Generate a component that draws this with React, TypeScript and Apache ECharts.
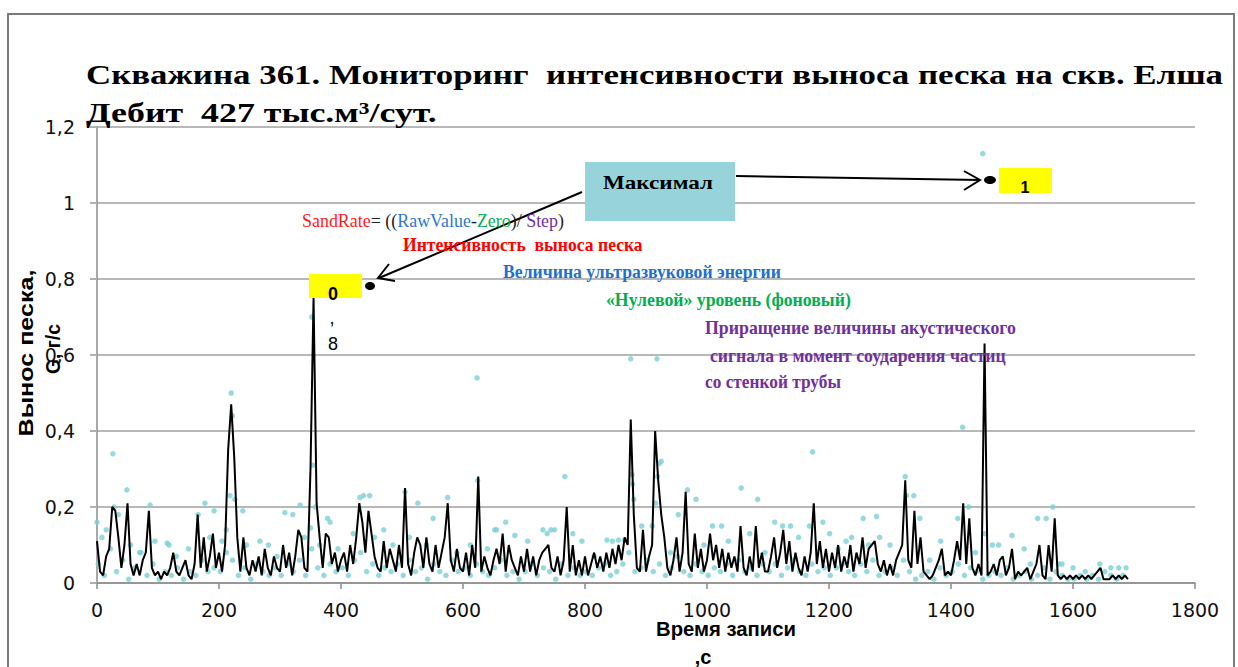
import React, { useEffect, useRef } from "react";
import * as echarts from "echarts";

// ---- data ----
const lineStep = 5; // seconds between smoothed samples
const lineValues = [
  0.11,0.03,0.02,0.07,0.09,0.20,0.19,0.12,0.04,0.10,0.21,0.05,0.02,0.05,0.02,0.06,0.08,0.19,0.04,0.02,
  0.03,0.01,0.03,0.02,0.04,0.08,0.03,0.02,0.04,0.06,0.02,0.01,0.05,0.18,0.04,0.12,0.03,0.07,0.13,0.04,
  0.08,0.03,0.10,0.35,0.47,0.33,0.12,0.03,0.12,0.04,0.02,0.06,0.03,0.07,0.02,0.09,0.04,0.02,0.07,0.04,
  0.03,0.10,0.04,0.08,0.02,0.07,0.14,0.12,0.04,0.03,0.30,0.75,0.21,0.12,0.04,0.13,0.12,0.05,0.08,0.03,
  0.06,0.08,0.03,0.10,0.05,0.12,0.21,0.16,0.08,0.19,0.13,0.07,0.04,0.03,0.11,0.04,0.09,0.06,0.03,0.10,
  0.04,0.25,0.05,0.02,0.08,0.12,0.10,0.04,0.12,0.05,0.03,0.10,0.04,0.08,0.12,0.21,0.06,0.03,0.09,0.04,
  0.03,0.08,0.02,0.10,0.04,0.28,0.03,0.07,0.04,0.02,0.06,0.09,0.05,0.13,0.03,0.10,0.06,0.04,0.02,0.07,
  0.03,0.09,0.03,0.07,0.02,0.06,0.08,0.09,0.10,0.04,0.03,0.07,0.02,0.06,0.20,0.03,0.10,0.02,0.06,0.02,
  0.07,0.02,0.05,0.08,0.04,0.07,0.03,0.08,0.04,0.09,0.05,0.10,0.06,0.12,0.10,0.43,0.18,0.04,0.03,0.14,
  0.03,0.07,0.10,0.40,0.27,0.18,0.12,0.04,0.02,0.06,0.12,0.03,0.08,0.24,0.05,0.03,0.13,0.04,0.09,0.03,
  0.06,0.13,0.06,0.10,0.04,0.09,0.03,0.08,0.04,0.07,0.03,0.15,0.04,0.02,0.07,0.03,0.15,0.04,0.08,0.03,
  0.03,0.07,0.12,0.04,0.08,0.14,0.05,0.11,0.03,0.08,0.04,0.02,0.07,0.03,0.08,0.21,0.05,0.11,0.04,0.09,
  0.03,0.08,0.04,0.10,0.03,0.07,0.04,0.10,0.03,0.08,0.05,0.12,0.04,0.09,0.10,0.11,0.05,0.03,0.06,0.02,
  0.05,0.02,0.06,0.08,0.10,0.27,0.06,0.04,0.19,0.05,0.12,0.03,0.02,0.01,0.02,0.04,0.06,0.09,0.02,0.03,
  0.02,0.06,0.11,0.06,0.21,0.05,0.17,0.04,0.02,0.05,0.02,0.63,0.02,0.03,0.05,0.02,0.06,0.07,0.02,0.04,
  0.09,0.01,0.03,0.02,0.03,0.04,0.01,0.03,0.05,0.10,0.02,0.01,0.10,0.03,0.17,0.02,0.01,0.02,0.01,0.02,
  0.01,0.02,0.01,0.02,0.01,0.02,0.01,0.02,0.03,0.04,0.01,0.01,0.01,0.02,0.01,0.02,0.01,0.02,0.01,
];

const rawBaseStart = 2;
const rawBaseStep = 10;
const rawBase = [
  0.05,0.02,0.09,0.03,0.06,0.01,0.04,0.08,0.02,0.05,
  0.01,0.03,0.02,0.04,0.01,0.03,0.02,0.06,0.03,0.04,
  0.03,0.08,0.06,0.02,0.04,0.01,0.05,0.03,0.02,0.04,
  0.02,0.05,0.03,0.06,0.02,0.09,0.04,0.02,0.05,0.03,
  0.04,0.02,0.06,0.08,0.03,0.05,0.02,0.04,0.03,0.05,
  0.02,0.06,0.03,0.04,0.01,0.05,0.03,0.02,0.06,0.03,
  0.04,0.02,0.05,0.03,0.02,0.04,0.06,0.02,0.03,0.01,
  0.03,0.05,0.02,0.04,0.03,0.01,0.05,0.02,0.04,0.02,
  0.03,0.02,0.04,0.05,0.02,0.03,0.05,0.08,0.03,0.04,
  0.06,0.03,0.05,0.02,0.04,0.07,0.03,0.02,0.05,0.03,
  0.02,0.04,0.03,0.05,0.02,0.06,0.03,0.04,0.02,0.05,
  0.03,0.05,0.02,0.04,0.06,0.03,0.02,0.05,0.03,0.04,
  0.02,0.04,0.05,0.03,0.02,0.05,0.03,0.06,0.02,0.03,
  0.04,0.02,0.06,0.03,0.01,0.02,0.03,0.01,0.04,0.02,
  0.03,0.05,0.02,0.04,0.03,0.01,0.02,0.03,0.02,0.04,
  0.01,0.02,0.03,0.01,0.02,0.04,0.01,0.03,0.02,0.01,
  0.01,0.02,0.01,0.02,0.01,0.03,0.02,0.01,0.02,
];

const rawPeaks: [number, number][] = [
  [0,0.16],[8,0.12],[15,0.14],[26,0.34],[28,0.2],[35,0.18],[49,0.245],[55,0.1],[70,0.08],[87,0.205],
  [95,0.11],[115,0.105],[118,0.1],[130,0.07],[150,0.09],[166,0.18],[177,0.21],[185,0.12],[192,0.19],[205,0.11],
  [212,0.14],[218,0.23],[220,0.5],[222,0.44],[226,0.22],[239,0.19],[245,0.1],[267,0.11],[281,0.1],[295,0.07],
  [308,0.185],[321,0.18],[333,0.205],[340,0.12],[350,0.145],[352,0.7],[354,0.31],[358,0.2],[365,0.1],[378,0.17],
  [382,0.16],[395,0.09],[420,0.13],[431,0.225],[437,0.23],[447,0.23],[455,0.12],[470,0.14],[485,0.1],[505,0.24],
  [512,0.12],[526,0.21],[540,0.1],[551,0.17],[575,0.225],[590,0.08],[612,0.1],[623,0.54],[624,0.27],[640,0.09],
  [652,0.14],[655,0.14],[670,0.16],[685,0.125],[706,0.11],[731,0.14],[738,0.13],[744,0.14],[750,0.14],[767,0.28],
  [780,0.13],[795,0.11],[815,0.07],[836,0.113],[845,0.11],[855,0.113],[865,0.113],[875,0.59],[877,0.285],[878,0.26],
  [880,0.22],[893,0.15],[910,0.15],[916,0.21],[918,0.59],[919,0.28],[922,0.315],[925,0.32],[940,0.08],[953,0.18],
  [968,0.245],[982,0.22],[995,0.1],[1009,0.15],[1024,0.15],[1035,0.11],[1056,0.25],[1070,0.13],[1083,0.22],[1095,0.08],
  [1111,0.16],[1124,0.15],[1137,0.15],[1150,0.12],[1168,0.15],[1173,0.345],[1190,0.16],[1201,0.13],[1215,0.09],[1228,0.11],
  [1237,0.12],[1256,0.17],[1265,0.1],[1278,0.175],[1283,0.12],[1300,0.1],[1325,0.28],[1327,0.23],[1339,0.23],[1349,0.17],
  [1365,0.06],[1383,0.11],[1411,0.17],[1419,0.41],[1429,0.2],[1440,0.08],[1452,1.13],[1455,0.13],[1468,0.1],[1478,0.1],
  [1500,0.125],[1520,0.09],[1530,0.05],[1542,0.17],[1556,0.17],[1567,0.2],[1576,0.05],[1582,0.05],[1600,0.04],[1620,0.03],
  [1644,0.05],[1662,0.04],[1675,0.04],[1687,0.04],
];

const xMin = 0, xMax = 1800, xInterval = 200;
const yMin = 0, yMax = 1.2, yInterval = 0.2;

const titleLine1 = "Скважина 361. Мониторинг  интенсивности выноса песка на скв. Елша";
const titleLine2 = "Дебит  427 тыс.м³/сут.";
const yName1 = "Вынос песка,";
const yName2 = "G, г/с";
const xName1 = "Время записи";
const xName2 = ",с";
const boxLabel = "Максимал";
const formulaParts: [string, string][] = [
  ["SandRate", "#ff1a1a"], ["= ((", "#222"], ["RawValue", "#2f78d0"], ["-", "#222"],
  ["Zero", "#00b050"], [")/ ", "#222"], ["Step", "#7030a0"], [")", "#222"],
];
const legendRed = "Интенсивность  выноса песка";
const legendBlue = "Величина ультразвуковой энергии";
const legendGreen = "«Нулевой» уровень (фоновый)";
const legendPurple = [
  "Приращение величины акустического",
  "сигнала в момент соударения частиц",
  "со стенкой трубы",
];

// ---- helpers ----
let measureCtx: CanvasRenderingContext2D | null = null;
function textWidth(text: string, font: string): number {
  if (!measureCtx) measureCtx = document.createElement("canvas").getContext("2d");
  measureCtx!.font = font;
  return measureCtx!.measureText(text).width || 1;
}

function fitText(text: string, font: string, fill: string, x: number, y: number, width: number, extra: any = {}) {
  const s = width / textWidth(text, font);
  return {
    type: "text",
    x, y, scaleX: s, z: 100,
    style: { text, font, fill, align: "left", verticalAlign: "middle", textAlign: "left", textVerticalAlign: "middle" },
    ...extra,
  };
}

function centerText(text: string, font: string, fill: string, x: number, y: number, width: number | null, rotation = 0) {
  const s = width ? width / textWidth(text, font) : 1;
  return {
    type: "text",
    x, y, scaleX: s, rotation, z: 100,
    style: { text, font, fill, align: "center", verticalAlign: "middle", textAlign: "center", textVerticalAlign: "middle" },
  };
}

export default function App() {
  const ref = useRef<HTMLDivElement>(null);

  useEffect(() => {
    document.body.style.margin = "0";
    const chart = echarts.init(ref.current!, null, { renderer: "svg" });

    const lineData = lineValues.map((v, i) => [i * lineStep, v]);
    const rawData = rawBase.map((v, i) => [rawBaseStart + i * rawBaseStep, v]).concat(rawPeaks as any);

    const serifB = (px: number) => `bold ${px}px "Liberation Serif"`;
    const sansB = (px: number) => `bold ${px}px "Liberation Sans"`;

    // title (prefix measured to match the stretched look)
    const t1Font = serifB(28);
    const t1Scale = 533 / textWidth("Скважина 361. Мониторинг  инте", t1Font);

    // formula pieces
    const fFont = `19px "Liberation Serif"`;
    const fTotal = formulaParts.reduce((a, p) => a + textWidth(p[0], fFont), 0);
    const fScale = 262 / fTotal;
    let acc = 0;
    const formulaEls = formulaParts.map(([t, c]) => {
      const el = {
        type: "text", x: 302 + acc * fScale, y: 221, scaleX: fScale, z: 100,
        style: { text: t, font: fFont, fill: c, align: "left", verticalAlign: "middle", textAlign: "left", textVerticalAlign: "middle" },
      };
      acc += textWidth(t, fFont);
      return el;
    });

    const graphics: any[] = [
      { type: "rect", z: 1, shape: { x: 8, y: 14, width: 1226, height: 700 }, style: { fill: "none", stroke: "#7a7a7a", lineWidth: 2 } },
      {
        type: "text", x: 86, y: 75, scaleX: t1Scale, z: 100,
        style: { text: titleLine1, font: t1Font, fill: "#000", align: "left", verticalAlign: "middle", textAlign: "left", textVerticalAlign: "middle" },
      },
      fitText(titleLine2, t1Font, "#000", 86, 112, 351),
      // annotation box + arrows
      { type: "rect", z: 90, shape: { x: 585, y: 162, width: 150, height: 59 }, style: { fill: "#97d3db" } },
      fitText(boxLabel, serifB(18), "#000", 603, 183, 110),
      { type: "line", z: 95, shape: { x1: 582, y1: 192, x2: 379, y2: 278 }, style: { stroke: "#000", lineWidth: 2 } },
      { type: "polyline", z: 95, shape: { points: [[389, 264], [378, 278], [395, 281]] }, style: { stroke: "#000", lineWidth: 2, fill: "none" } },
      { type: "line", z: 95, shape: { x1: 736, y1: 176, x2: 980, y2: 180 }, style: { stroke: "#000", lineWidth: 2 } },
      { type: "polyline", z: 95, shape: { points: [[964, 171], [980, 180], [964, 190]] }, style: { stroke: "#000", lineWidth: 2, fill: "none" } },
      { type: "ellipse", z: 95, shape: { cx: 370, cy: 286, rx: 5, ry: 4 }, style: { fill: "#000" } },
      { type: "ellipse", z: 95, shape: { cx: 990, cy: 180, rx: 6, ry: 4 }, style: { fill: "#000" } },
      { type: "rect", z: 90, shape: { x: 309, y: 274, width: 53, height: 24 }, style: { fill: "#ffff00" } },
      { type: "rect", z: 90, shape: { x: 999, y: 168, width: 53, height: 25 }, style: { fill: "#ffff00" } },
      centerText("0", `bold 18px "Liberation Sans"`, "#000", 333, 294, null),
      centerText(",", `18px "Liberation Sans"`, "#000", 332, 318, null),
      centerText("8", `18px "Liberation Sans"`, "#000", 333, 344, null),
      centerText("1", `bold 16px "Liberation Sans"`, "#000", 1025, 187, null),
      ...formulaEls,
      fitText(legendRed, serifB(19), "#ff0000", 403, 245, 240),
      fitText(legendBlue, serifB(19), "#1f6fd0", 503, 272, 278),
      fitText(legendGreen, serifB(19), "#00b050", 606, 300, 245),
      fitText(legendPurple[0], serifB(19), "#7030a0", 705, 328, 311),
      fitText(legendPurple[1], serifB(19), "#7030a0", 710, 356, 296),
      fitText(legendPurple[2], serifB(19), "#7030a0", 705, 382, 136),
      // axis names
      centerText(yName1, sansB(21), "#000", 26, 353, 167, Math.PI / 2),
      centerText(yName2, sansB(21), "#000", 53, 349, 50, Math.PI / 2),
      centerText(xName1, sansB(20), "#000", 726, 629, 140),
      centerText(xName2, sansB(20), "#000", 703, 657, null),
    ];

    chart.setOption({
      animation: false,
      backgroundColor: "#fff",
      grid: { left: 97, right: 43, top: 127, bottom: 84, containLabel: false },
      xAxis: {
        type: "value", min: xMin, max: xMax, interval: xInterval,
        axisLine: { show: true, lineStyle: { color: "#8c8c8c", width: 1.5 } },
        axisTick: { show: true, length: 6, lineStyle: { color: "#8c8c8c", width: 1.5 } },
        splitLine: { show: false },
        axisLabel: {
          color: "#111", fontFamily: "DejaVu Sans", fontSize: 19, margin: 17,
          formatter: (v: number) => String(Math.round(v)),
        },
      },
      yAxis: {
        type: "value", min: yMin, max: yMax, interval: yInterval,
        axisLine: { show: true, lineStyle: { color: "#8c8c8c", width: 1.5 } },
        axisTick: { show: true, length: 7, lineStyle: { color: "#b0b0b0", width: 2 } },
        splitLine: { show: true, lineStyle: { color: "#b8b8b8", width: 2 } },
        axisLabel: {
          color: "#111", fontFamily: "DejaVu Sans", fontSize: 19, margin: 22,
          formatter: (v: number) => String(Number(v.toFixed(1))).replace(".", ","),
        },
      },
      series: [
        {
          type: "scatter", data: rawData, symbol: "circle", symbolSize: 5.5,
          itemStyle: { color: "#7ccfd6" }, z: 2, silent: true,
        },
        {
          type: "line", data: lineData, showSymbol: false, symbol: "none",
          lineStyle: { color: "#000", width: 2 }, z: 3, silent: true,
        },
      ],
      graphic: { elements: graphics },
    });

    return () => chart.dispose();
  }, []);

  return <div ref={ref} style={{ width: 1238, height: 667 }} />;
}
